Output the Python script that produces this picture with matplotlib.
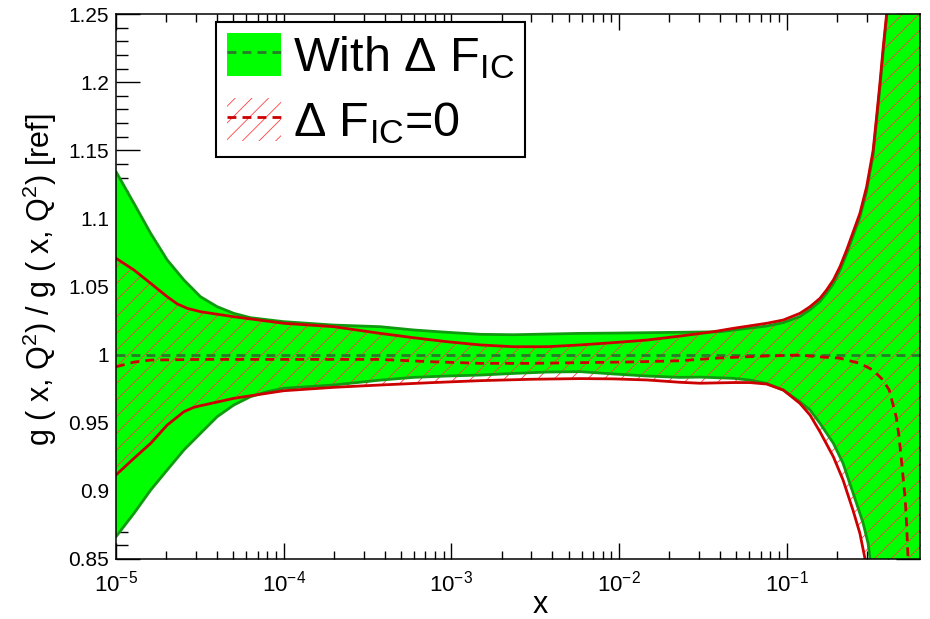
import numpy as np
import matplotlib
matplotlib.use("Agg")
import matplotlib.pyplot as plt
from matplotlib.patches import Patch
from matplotlib.lines import Line2D
from matplotlib.ticker import LogLocator, MultipleLocator

plt.rcParams['font.family'] = ['Liberation Sans', 'DejaVu Sans']
plt.rcParams['mathtext.fontset'] = 'custom'
plt.rcParams['mathtext.rm'] = 'Liberation Sans'
plt.rcParams['mathtext.it'] = 'Liberation Sans:italic'
plt.rcParams['mathtext.bf'] = 'Liberation Sans:bold'
plt.rcParams['mathtext.default'] = 'regular'
plt.rcParams['hatch.linewidth'] = 0.6

# ---- gluon ratio: fit with intrinsic-charm term (green band) ----
ic_up_x = [1.0e-5, 1.28e-5, 1.61e-5, 2.02e-5, 2.54e-5, 3.19e-5, 4.01e-5, 5.04e-5,
           6.34e-5, 1.0e-4, 1.99e-4, 3.77e-4, 5.95e-4, 9.4e-4, 1.49e-3, 2.35e-3,
           3.71e-3, 5.87e-3, 9.27e-3, 1.47e-2, 2.31e-2, 4.0e-2, 4.81e-2, 7.6e-2,
           9.55e-2, 0.12, 0.138, 0.158, 0.173, 0.19, 0.208, 0.228, 0.2735, 0.300,
           0.328, 0.344, 0.36, 0.377, 0.395, 0.42, 0.7]
ic_up_y = [1.1343, 1.111, 1.089, 1.0695, 1.0548, 1.0425, 1.0352, 1.0303,
           1.0271, 1.0242, 1.0217, 1.0205, 1.0181, 1.0164, 1.0149, 1.0146,
           1.0151, 1.0156, 1.0158, 1.0161, 1.0164, 1.0168, 1.018, 1.021,
           1.0235, 1.028, 1.033, 1.039, 1.045, 1.052, 1.062, 1.074, 1.101, 1.120,
           1.147, 1.172, 1.196, 1.223, 1.248, 1.29, 1.6]

ic_lo_x = [1.0e-5, 1.28e-5, 1.61e-5, 2.02e-5, 2.54e-5, 3.19e-5, 4.01e-5, 5.04e-5,
           6.34e-5, 7.97e-5, 1.0e-4, 1.99e-4, 3.77e-4, 5.95e-4, 9.4e-4, 1.49e-3,
           2.35e-3, 3.71e-3, 5.87e-3, 9.27e-3, 1.47e-2, 2.31e-2, 3.04e-2, 4.81e-2,
           6.04e-2, 7.6e-2, 9.55e-2, 0.12, 0.138, 0.158, 0.19, 0.217, 0.238, 0.261,
           0.286, 0.306, 0.314, 0.34, 0.7]
ic_lo_y = [0.8664, 0.8835, 0.9006, 0.9153, 0.930, 0.9422, 0.9544, 0.963,
           0.9691, 0.9728, 0.9753, 0.9777, 0.9813, 0.9833, 0.9843, 0.985,
           0.9862, 0.9872, 0.9875, 0.9858, 0.9843, 0.9833, 0.9835, 0.9826,
           0.9813, 0.9789, 0.974, 0.9654, 0.9593, 0.9496, 0.9349, 0.9202, 0.9055,
           0.8909, 0.8762, 0.8615, 0.8505, 0.82, 0.5]

ic_cv_x = [1.0e-5, 0.62]
ic_cv_y = [1.0, 1.0]

# ---- gluon ratio: fit with Delta F_IC = 0 (red hatched band) ----
noic_up_x = [1.0e-5, 1.28e-5, 1.61e-5, 2.02e-5, 2.32e-5, 2.66e-5, 3.19e-5, 5.04e-5,
             1.0e-4, 1.99e-4, 3.77e-4, 5.95e-4, 9.4e-4, 1.49e-3, 2.35e-3, 3.71e-3,
             5.87e-3, 9.27e-3, 1.47e-2, 2.31e-2, 3.65e-2, 4.81e-2, 7.6e-2, 9.55e-2,
             0.12, 0.138, 0.158, 0.173, 0.19, 0.208, 0.228, 0.2735, 0.300, 0.328,
             0.344, 0.36, 0.377, 0.395, 0.42, 0.7]
noic_up_y = [1.0707, 1.0621, 1.0523, 1.0425, 1.0372, 1.034, 1.0315, 1.0278,
             1.023, 1.0205, 1.0156, 1.0124, 1.0095, 1.0071, 1.0058, 1.0058,
             1.0071, 1.0088, 1.0107, 1.0136, 1.0168, 1.0193, 1.023, 1.0254,
             1.0303, 1.0352, 1.0413, 1.0474, 1.0548, 1.0645, 1.0768, 1.1037, 1.1232,
             1.150, 1.1746, 1.1991, 1.226, 1.2505, 1.29, 1.6]

noic_lo_x = [1.0e-5, 1.28e-5, 1.61e-5, 2.02e-5, 2.54e-5, 2.91e-5, 3.19e-5, 5.04e-5,
             1.0e-4, 1.99e-4, 3.77e-4, 7.48e-4, 1.49e-3, 2.95e-3, 5.87e-3, 9.27e-3,
             1.47e-2, 2.31e-2, 3.04e-2, 4.81e-2, 6.04e-2, 7.6e-2, 9.55e-2, 0.12,
             0.138, 0.158, 0.19, 0.217, 0.249, 0.2735, 0.293, 0.32, 0.7]
noic_lo_y = [0.9117, 0.9239, 0.9349, 0.9483, 0.9581, 0.9613, 0.9625, 0.9679,
             0.9735, 0.976, 0.9777, 0.9794, 0.9809, 0.9819, 0.9824, 0.9822,
             0.9814, 0.9797, 0.979, 0.9795, 0.9795, 0.9784, 0.974, 0.9642,
             0.9556, 0.9434, 0.925, 0.908, 0.8856, 0.8688, 0.8505, 0.82, 0.5]

noic_cv_x = [1.0e-5, 1.28e-5, 1.61e-5, 3.19e-5, 3.77e-4, 7.48e-4, 1.49e-3,
             2.95e-3, 5.87e-3, 1.16e-2, 2.31e-2, 3.65e-2, 4.8e-2, 7.6e-2, 0.12,
             0.151, 0.207, 0.273, 0.327, 0.376, 0.409, 0.45, 0.468, 0.488, 0.51,
             0.52, 0.53, 0.55]
noic_cv_y = [0.9911, 0.9945, 0.996, 0.9965, 0.9965, 0.9948, 0.9936, 0.9936,
             0.9941, 0.9946, 0.9955, 0.9973, 0.998, 0.999, 0.9997, 0.9985,
             0.9974, 0.9936, 0.9887, 0.9813, 0.974, 0.9544, 0.940, 0.918, 0.893,
             0.874, 0.850, 0.82]

x_range = (1.0e-5, 0.62)
y_range = (0.85, 1.25)
y_major = 0.05
y_minor = 0.01

legend_labels = ['With Δ F$_{\\mathrm{IC}}$', 'Δ F$_{\\mathrm{IC}}$=0']
x_title = 'x'
y_title = 'g ( x, Q$^{2}$) / g ( x, Q$^{2}$) [ref]'

# colours
GREEN_FILL = '#00ff00'
GREEN_EDGE = '#109a10'
GREEN_DASH = '#2a7a2a'
RED = '#cc0000'
RED_HATCH = '#ff4040'
DASH = (0, (3.2, 2.2))


def band_polygon(xu, yu, xl, yl):
    px = np.concatenate([np.asarray(xu), np.asarray(xl)[::-1]])
    py = np.concatenate([np.asarray(yu), np.asarray(yl)[::-1]])
    return px, py


fig = plt.figure(figsize=(9.30, 6.19), dpi=100)
ax = fig.add_axes([116 / 930, 60 / 619, 803.5 / 930, 545 / 619])

# green band
gx, gy = band_polygon(ic_up_x, ic_up_y, ic_lo_x, ic_lo_y)
ax.fill(gx, gy, facecolor=GREEN_FILL, edgecolor='none', linewidth=0, zorder=3)

# red hatched band
rx, ry = band_polygon(noic_up_x, noic_up_y, noic_lo_x, noic_lo_y)
ax.fill(rx, ry, facecolor='none', edgecolor=RED_HATCH, linewidth=0,
        hatch='//', zorder=4)

lw = 2.0
line_kw = dict(solid_joinstyle='round', solid_capstyle='round')
ax.plot(ic_up_x, ic_up_y, color=GREEN_EDGE, lw=lw, zorder=5, **line_kw)
ax.plot(ic_lo_x, ic_lo_y, color=GREEN_EDGE, lw=lw, zorder=5, **line_kw)
ax.plot(ic_cv_x, ic_cv_y, color=GREEN_DASH, lw=lw, ls=DASH, zorder=5)

ax.plot(noic_up_x, noic_up_y, color=RED, lw=lw, zorder=6, **line_kw)
ax.plot(noic_lo_x, noic_lo_y, color=RED, lw=lw, zorder=6, **line_kw)
ax.plot(noic_cv_x, noic_cv_y, color=RED, lw=lw, ls=DASH, zorder=6)

ax.set_xscale('log')
ax.set_xlim(*x_range)
ax.set_ylim(*y_range)

ax.yaxis.set_major_locator(MultipleLocator(y_major))
ax.yaxis.set_minor_locator(MultipleLocator(y_minor))
ax.xaxis.set_major_locator(LogLocator(base=10, numticks=20))
ax.xaxis.set_minor_locator(LogLocator(base=10, subs=np.arange(2, 10), numticks=20))
ax.yaxis.set_major_formatter(plt.FuncFormatter(lambda v, p: f'{v:.2f}'.rstrip('0').rstrip('.')))

ax.tick_params(axis='x', which='major', direction='in', length=11.8, width=1.0,
               top=True, bottom=True, labelsize=16, pad=8)
ax.tick_params(axis='x', which='minor', direction='in', length=5.9, width=1.0,
               top=True, bottom=True)
ax.tick_params(axis='y', which='major', direction='in', length=17.4, width=1.0,
               left=True, right=True, labelsize=15, pad=5)
ax.tick_params(axis='y', which='minor', direction='in', length=8.7, width=1.0,
               left=True, right=True)

for sp in ax.spines.values():
    sp.set_linewidth(1.1)
    sp.set_zorder(10)

fig.text(40 / 930, 1 - 280 / 619, y_title, rotation=90, ha='center', va='center',
         fontsize=22)
fig.text(540 / 930, 1 - 605 / 619, x_title, ha='center', va='center', fontsize=22)

handles = [
    (Patch(facecolor=GREEN_FILL, edgecolor='none', linewidth=0),
     Line2D([], [], color=GREEN_DASH, lw=lw, ls=DASH)),
    (Patch(facecolor='white', edgecolor=RED_HATCH, linewidth=0, hatch='//'),
     Line2D([], [], color=RED, lw=lw, ls=DASH)),
]
leg = ax.legend(handles, legend_labels, loc='upper left',
                bbox_to_anchor=(216 / 930, 1 - 22 / 619), bbox_transform=fig.transFigure,
                borderaxespad=0, fontsize=35, handlelength=1.11, handleheight=1.0,
                handletextpad=0.25, borderpad=0.22, labelspacing=0.34,
                fancybox=False, framealpha=1, edgecolor='black')
leg.get_frame().set_linewidth(1.5)
leg.set_zorder(20)

fig.savefig('out.png', dpi=100)
